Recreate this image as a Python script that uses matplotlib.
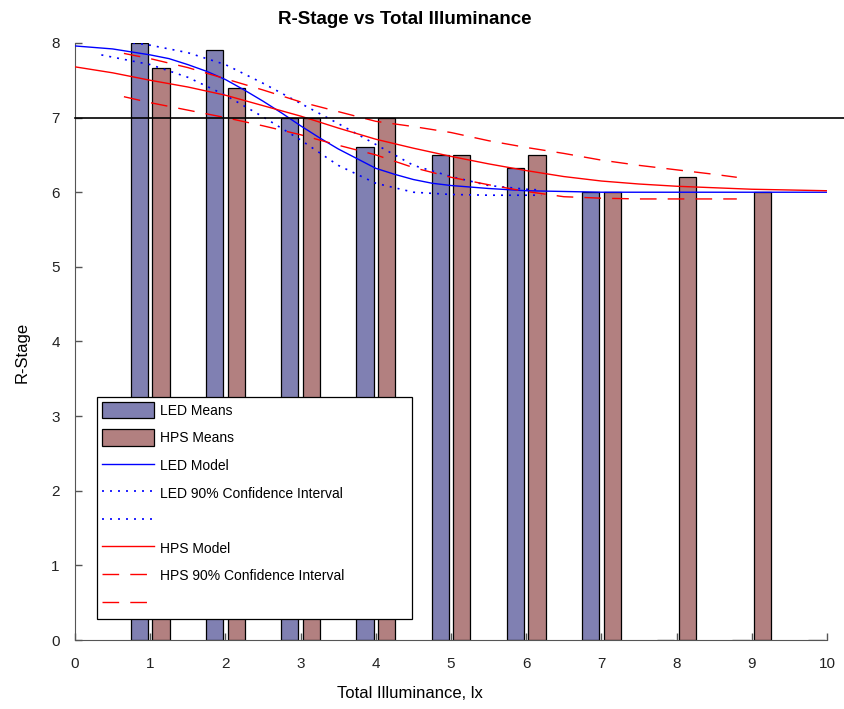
import numpy as np
import matplotlib.pyplot as plt
from matplotlib.patches import Rectangle

plt.rcParams['font.family'] = ['Liberation Sans', 'DejaVu Sans']

# Bar data (mean R-Stage per illuminance level)
illum = np.array([1, 2, 3, 4, 5, 6, 7, 8, 9, 10])
led_means = [8.0, 7.9, 7.0, 6.6, 6.5, 6.33, 6.0, 0, 0, 0]
hps_means = [7.67, 7.4, 7.0, 7.0, 6.5, 6.5, 6.0, 6.2, 6.0, 0]

# LED model curve
led_x = [0, 0.5, 1, 1.25, 1.5, 1.75, 2, 2.25, 2.5, 2.75, 3, 3.25, 3.5, 3.75,
         4, 4.25, 4.5, 4.75, 5, 5.25, 5.5, 6, 6.5, 7, 8, 9, 10]
led_y = [7.96, 7.92, 7.84, 7.79, 7.71, 7.62, 7.51, 7.37, 7.22, 7.06, 6.89,
         6.73, 6.58, 6.45, 6.32, 6.24, 6.17, 6.12, 6.09, 6.07, 6.05, 6.02,
         6.01, 6.0, 6.0, 6.0, 6.0]

# LED 90% CI
led_ci_x = [0.35, 0.5, 1, 1.5, 2, 2.5, 3, 3.5, 4, 4.5, 5, 5.5, 6, 6.2]
led_ci_hi = [8.06, 8.04, 7.97, 7.87, 7.71, 7.46, 7.19, 6.92, 6.64, 6.36,
             6.21, 6.09, 6.04, 6.03]
led_ci_lo = [7.84, 7.81, 7.71, 7.54, 7.30, 7.01, 6.70, 6.36, 6.12, 6.00,
             5.97, 5.96, 5.96, 5.96]

# HPS model curve
hps_x = [0, 0.5, 1, 1.5, 2, 2.5, 3, 3.5, 4, 4.5, 5, 5.5, 6, 6.5, 7, 7.5,
         8, 8.5, 9, 9.5, 10]
hps_y = [7.68, 7.60, 7.50, 7.41, 7.30, 7.16, 7.02, 6.86, 6.71, 6.59, 6.48,
         6.38, 6.29, 6.21, 6.15, 6.11, 6.08, 6.06, 6.04, 6.03, 6.02]

# HPS 90% CI
hps_ci_x = [0.65, 1, 1.5, 2, 2.5, 3, 3.5, 4, 4.5, 5, 5.5, 6, 6.5, 7, 7.5,
            8, 8.5, 8.8]
hps_ci_hi = [7.86, 7.79, 7.67, 7.52, 7.37, 7.21, 7.08, 6.95, 6.88, 6.80,
             6.69, 6.60, 6.52, 6.43, 6.36, 6.30, 6.24, 6.20]
hps_ci_lo = [7.28, 7.20, 7.10, 7.00, 6.89, 6.77, 6.63, 6.50, 6.33, 6.20,
             6.10, 6.01, 5.94, 5.92, 5.91, 5.91, 5.91, 5.91]

threshold = 7.0

fig = plt.figure(figsize=(8.44, 7.09), dpi=100)
ax = fig.add_axes([0.0889, 0.0973, 0.891, 0.8421])

w = 0.229
off = 0.143
b1 = ax.bar(illum - off, led_means, width=w, color='#8080b2',
            edgecolor='black', linewidth=0.9, zorder=2)
b2 = ax.bar(illum + off, hps_means, width=w, color='#b28080',
            edgecolor='black', linewidth=0.9, zorder=2)

l1, = ax.plot(led_x, led_y, color='blue', lw=1.0, zorder=3)
l2, = ax.plot(led_ci_x, led_ci_hi, color='blue', lw=1.2, dashes=(1.2, 3.6),
              zorder=3)
l3, = ax.plot(led_ci_x, led_ci_lo, color='blue', lw=1.2, dashes=(1.2, 3.6),
              zorder=3)
l4, = ax.plot(hps_x, hps_y, color='red', lw=1.0, zorder=3)
l5, = ax.plot(hps_ci_x, hps_ci_hi, color='red', lw=1.0, dashes=(12, 8),
              zorder=3)
l6, = ax.plot(hps_ci_x, hps_ci_lo, color='red', lw=1.0, dashes=(12, 8),
              zorder=3)

ax.axhline(threshold, xmin=0, xmax=1.023, color='black', lw=1.2,
           clip_on=False, zorder=4)

ax.set_xlim(0, 10)
ax.set_ylim(0, 8)
ax.set_xticks(range(0, 11))
ax.set_yticks(range(0, 9))
ax.tick_params(direction='in', length=5, width=1, colors='#555555',
               labelcolor='#222222', labelsize=11)
ax.tick_params(axis='x', pad=12)
ax.tick_params(axis='y', pad=11)
for s in ['top', 'right']:
    ax.spines[s].set_visible(False)
ax.spines['left'].set_color('#555555')
ax.spines['bottom'].set_color('#555555')

fig.text(405 / 844, 1 - 19 / 709, 'R-Stage vs Total Illuminance',
         fontsize=13.5, fontweight='bold', ha='center', va='center')
ax.set_xlabel('Total Illuminance, lx', fontsize=12)
ax.set_ylabel('R-Stage', fontsize=12)
ax.xaxis.set_label_coords(0.445, -0.077)
ax.yaxis.set_label_coords(-0.060, 0.482)

# legend box
ax.add_patch(Rectangle((0.029, 0.035), 0.419, 0.372, transform=ax.transAxes,
                       facecolor='white', edgecolor='black', lw=0.9,
                       zorder=5))
handles = [b1, b2, l1, l2, l3, l4, l5, l6]
labels = ['LED Means', 'HPS Means', 'LED Model',
          'LED 90% Confidence Interval', '', 'HPS Model',
          'HPS 90% Confidence Interval', '']
leg = ax.legend(handles, labels, loc='upper left',
                bbox_to_anchor=(0.029, 0.407), fontsize=10, frameon=False,
                handlelength=3.75, handleheight=1.45, labelspacing=0.8,
                handletextpad=0.43, borderpad=0.35, borderaxespad=0)
leg.set_zorder(6)

plt.savefig('out.png', dpi=100)
